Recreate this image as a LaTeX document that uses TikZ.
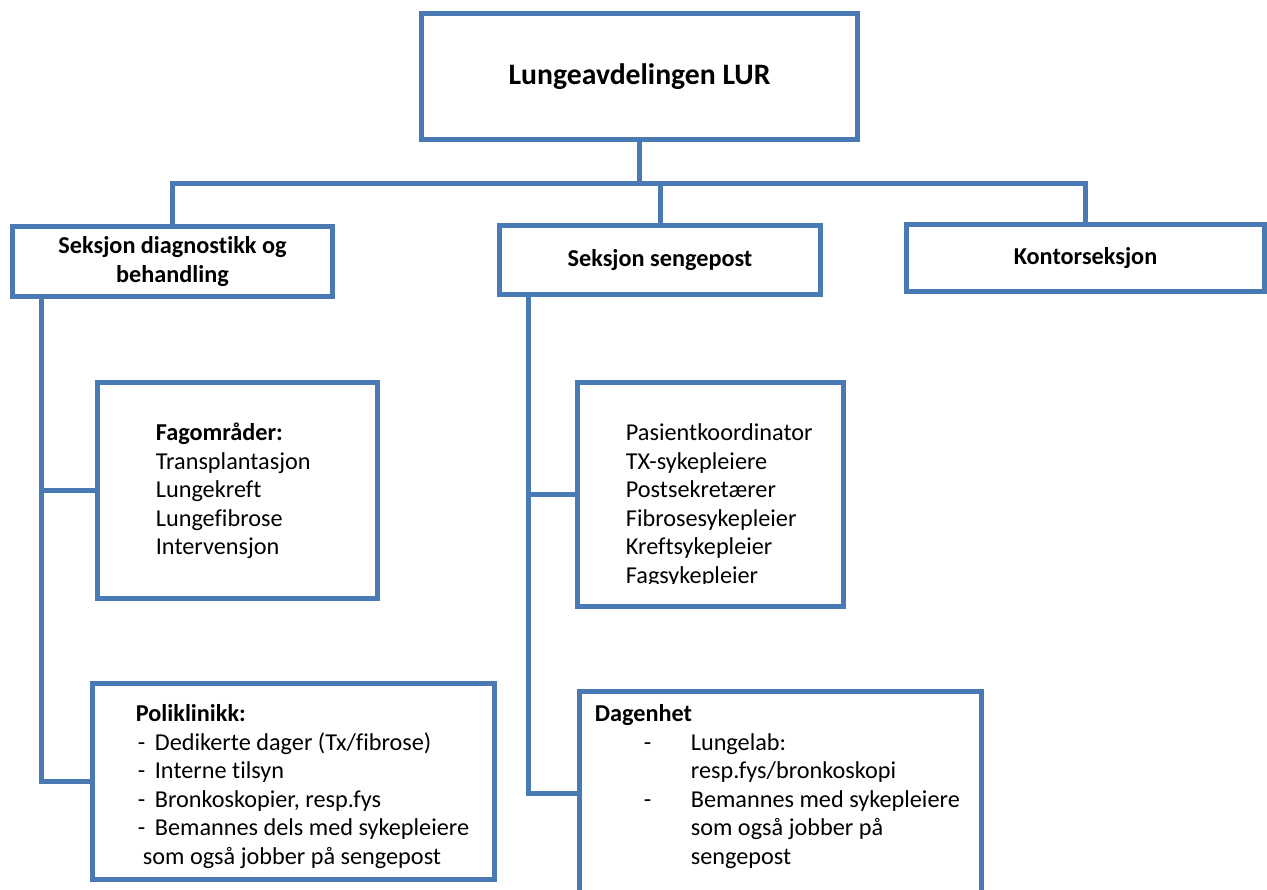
\documentclass[tikz,border=0pt]{standalone}
\usepackage{fontspec}
\setmainfont[Ligatures=NoCommon]{Carlito}
\definecolor{boxblue}{RGB}{74,122,180}
\newcommand{\bodyfont}{\fontsize{13.8pt}{16.2pt}\selectfont}
\newcommand{\topfont}{\fontsize{16.9pt}{20pt}\selectfont\bfseries}
\newcommand{\polidash}{\hspace*{0.4mm}\makebox[3.4mm][l]{-}}
\newcommand{\dagdash}{\hspace*{9.8mm}\makebox[9.4mm][l]{-}}

\begin{document}
\begin{tikzpicture}[x=0.02cm,y=-0.02cm,
    orgbox/.style={draw=boxblue,line width=0.1cm,fill=white,inner sep=0pt,align=center,font=\bodyfont\bfseries},
    orglink/.style={draw=boxblue,line width=0.1cm},
    listtext/.style={anchor=north west,inner sep=0pt,align=left,font=\bodyfont}]
    \useasboundingbox (0,0) rectangle (1267,889);

    % Drawing the department box
    \node[orgbox,font=\topfont,minimum width=8.74cm,minimum height=2.54cm] (lur) at (639.5,76.5) {Lungeavdelingen LUR};

    % Drawing the three section boxes
    \node[orgbox,minimum width=6.42cm,minimum height=1.42cm] (diag) at (172.5,261.5) {Seksjon diagnostikk og\\behandling};
    \node[orgbox,minimum width=6.44cm,minimum height=1.40cm] (seng) at (660,260) {Seksjon sengepost};
    \node[orgbox,minimum width=7.18cm,minimum height=1.36cm] (kontor) at (1085.5,258) {Kontorseksjon};

    % Drawing the bus below the department
    \coordinate (bus) at (639.5,183);
    \draw[orglink] (lur.south) -- (bus);
    \draw[orglink] (diag.north) |- (bus -| kontor.north) -- (kontor.north);
    \draw[orglink] (seng.north) -- (seng.north |- bus);

    % Drawing box Fagomrader
    \node[orgbox,minimum width=5.62cm,minimum height=4.34cm] (fag) at (237.5,490.5) {};
    \node[listtext] (fagtxt) at ([shift={(61,41)}]fag.north west)
        {\strut\textbf{Fagområder:}\\Transplantasjon\\Lungekreft\\Lungefibrose\\Intervensjon};

    % Drawing box Poliklinikk
    \node[orgbox,minimum width=8.06cm,minimum height=3.94cm] (poli) at (293.5,781.5) {};
    \node[listtext] (politxt) at ([shift={(46,21)}]poli.north west)
        {\strut\textbf{Poliklinikk:}\\
         \polidash Dedikerte dager (Tx/fibrose)\\
         \polidash Interne tilsyn\\
         \polidash Bronkoskopier, resp.fys\\
         \polidash Bemannes dels med sykepleiere\\
         \hspace*{1.4mm}som også jobber på sengepost};

    % Drawing box with the ward staff
    \node[orgbox,minimum width=5.34cm,minimum height=4.50cm] (pers) at (710.5,494.5) {};
    \begin{scope}
        \clip (580,385) rectangle (841,583);
        \node[listtext] (perstxt) at ([shift={(51,41)}]pers.north west)
            {\strut Pasientkoordinator\\TX-sykepleiere\\Postsekretærer\\Fibrosesykepleier\\Kreftsykepleier\\Fagsykepleier};
    \end{scope}

    % Drawing box Dagenhet
    \node[orgbox,minimum width=8.06cm,minimum height=4.08cm] (dag) at (780.5,793) {};
    \node[listtext] (dagtxt) at ([shift={(18,13)}]dag.north west)
        {\strut\textbf{Dagenhet}\\
         \dagdash Lungelab:\\
         \hspace*{19.2mm}resp.fys/bronkoskopi\\
         \dagdash Bemannes med sykepleiere\\
         \hspace*{19.2mm}som også jobber på\\
         \hspace*{19.2mm}sengepost};

    % Drawing the spines down from the sections
    \draw[orglink] ([xshift=0.64cm]diag.south west) |- (fag.west);
    \draw[orglink] ([xshift=0.64cm]diag.south west) |- (poli.west);
    \draw[orglink] ([xshift=0.64cm]seng.south west) |- (pers.west);
    \draw[orglink] ([xshift=0.64cm]seng.south west) |- (dag.west);
\end{tikzpicture}
\end{document}
